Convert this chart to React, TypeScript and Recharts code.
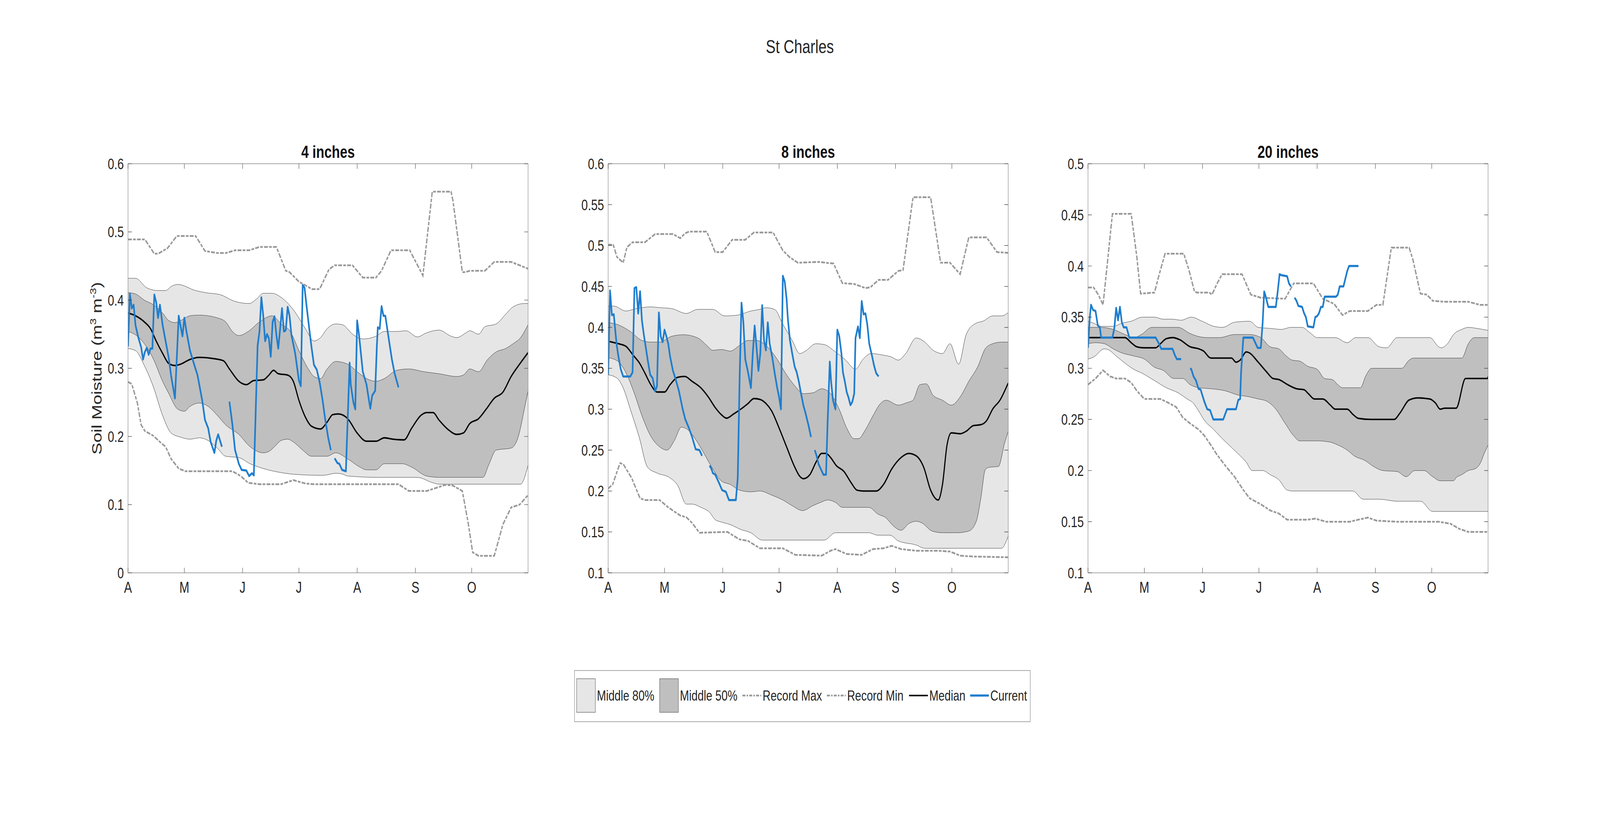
import React from 'react';
import { ComposedChart, Area, Line, XAxis, YAxis } from 'recharts';

type Pt = [number, number];

const FONT = '"Liberation Sans", Arial, Helvetica, sans-serif';
const TEXT = '#262626';
const BOX = '#878787';
const TICK = '#333333';
const LIGHT = '#e6e6e6';
const DARK = '#bfbfbf';
const EDGE = '#2b2b2b';
const RECORD = '#999999';
const BLUE = '#1f7dcd';
const RECORD_DASH = '13 4 9 4';

// figure size of the original; the whole figure is squeezed to the real viewport width
const FIG_W = 5375;
const FIG_H = 2096;

const PLOT_TOP = 419;
const PLOT_W = 1344;
const PLOT_H = 1047;
const PAD_L = 200;
const PAD_T = 100;
const PAD_R = 60;
const PAD_B = 120;
const TICK_LEN = 13;

// days since Apr 1 (Apr 1 .. Oct 31)
const DAY_END = 213;
const monthTicks = [0, 30, 61, 91, 122, 153, 183];
const monthLabels = ['A', 'M', 'J', 'J', 'A', 'S', 'O'];

const ticks4 = [0, 0.1, 0.2, 0.3, 0.4, 0.5, 0.6];
const ticks8 = [0.1, 0.15, 0.2, 0.25, 0.3, 0.35, 0.4, 0.45, 0.5, 0.55, 0.6];
const ticks20 = [0.1, 0.15, 0.2, 0.25, 0.3, 0.35, 0.4, 0.45, 0.5];

// ---- 4 inches ----
const max4: Pt[] = [[0,0.489],[9,0.489],[14,0.468],[16,0.468],[21,0.476],[26,0.494],[36,0.494],[41,0.472],[47.5,0.469],[52,0.469],[57,0.473],[64.5,0.473],[70,0.478],[79,0.478],[84,0.443],[86,0.441],[91,0.427],[98,0.416],[102,0.416],[107,0.445],[110,0.451],[119.5,0.451],[125,0.433],[132,0.433],[135,0.443],[140,0.473],[150,0.473],[157,0.436],[162,0.559],[172,0.559],[173,0.546],[178,0.441],[179.5,0.441],[182,0.443],[190,0.443],[195,0.456],[204,0.456],[213,0.446]];
const min4: Pt[] = [[0,0.280],[2,0.277],[5,0.249],[7,0.217],[9,0.208],[13.5,0.201],[17,0.192],[20,0.185],[23,0.167],[27,0.153],[30.5,0.149],[55.6,0.149],[60,0.142],[64,0.132],[70,0.130],[81.5,0.130],[88,0.136],[94.5,0.131],[99,0.130],[144,0.130],[149.5,0.120],[159,0.120],[169,0.129],[173,0.128],[178,0.120],[181,0.075],[183.5,0.030],[186.6,0.025],[195,0.025],[199.6,0.071],[204,0.096],[208.5,0.100],[213,0.114]];
const p90_4: Pt[] = [[0,0.432],[4,0.432],[10,0.418],[16,0.414],[20,0.414],[23,0.420],[26.5,0.423],[36,0.414],[41,0.411],[49,0.408],[57,0.398],[64.5,0.395],[68.6,0.402],[72,0.410],[76.7,0.410],[81.5,0.404],[88,0.386],[94.5,0.358],[99,0.340],[102.5,0.345],[106,0.358],[110.6,0.365],[114,0.364],[120,0.349],[125,0.343],[132,0.347],[136.5,0.354],[143,0.354],[148,0.355],[154,0.346],[159,0.352],[165.6,0.356],[172,0.347],[175,0.345],[180,0.352],[182,0.355],[186.6,0.350],[190,0.361],[196,0.365],[201,0.379],[205,0.390],[211,0.395],[213,0.395]];
const p75_4: Pt[] = [[0,0.411],[4,0.409],[8.7,0.400],[13.6,0.393],[18.4,0.381],[21.7,0.370],[25,0.367],[28,0.370],[33,0.377],[38,0.378],[47.5,0.374],[52,0.368],[55.6,0.354],[59,0.348],[64,0.354],[70,0.368],[76.7,0.377],[81.5,0.365],[86.4,0.354],[91,0.326],[96,0.299],[99,0.288],[102.5,0.285],[106,0.299],[110.6,0.310],[117,0.306],[122,0.295],[127,0.285],[132,0.281],[136.5,0.285],[143,0.297],[149.5,0.299],[157.5,0.295],[165.6,0.292],[175,0.288],[178.5,0.290],[182,0.299],[186.6,0.295],[191.5,0.313],[196,0.324],[201,0.329],[205,0.336],[209,0.345],[213,0.364]];
const p25_4: Pt[] = [[0,0.354],[4,0.349],[8.7,0.336],[13.6,0.313],[18.4,0.281],[21.7,0.263],[26.5,0.240],[30,0.237],[33,0.244],[38,0.249],[42.7,0.244],[47.5,0.231],[52,0.217],[59,0.203],[65,0.185],[72,0.176],[75,0.178],[78,0.185],[81.5,0.194],[85,0.196],[88,0.192],[93,0.180],[97.7,0.171],[106,0.171],[110.6,0.176],[117,0.167],[123.5,0.155],[127,0.151],[132,0.151],[136.5,0.160],[146,0.160],[151,0.155],[159,0.142],[165.6,0.140],[189,0.140],[192,0.158],[196,0.180],[204,0.183],[207.7,0.199],[211,0.240],[213,0.267]];
const p10_4: Pt[] = [[0,0.329],[4,0.326],[8.7,0.304],[13.6,0.272],[18.4,0.231],[23,0.205],[28,0.199],[33,0.196],[38,0.198],[42.7,0.194],[47.5,0.183],[52,0.171],[59,0.169],[65,0.160],[72,0.153],[81.5,0.147],[91,0.144],[104,0.143],[110.6,0.146],[114,0.145],[117,0.142],[133,0.140],[154,0.140],[162.4,0.132],[165.6,0.130],[209,0.130],[213,0.158]];
const med4: Pt[] = [[0,0.381],[4,0.377],[8.7,0.368],[12,0.358],[15,0.340],[18.4,0.322],[21.7,0.307],[25,0.304],[28,0.306],[33,0.313],[38,0.316],[46,0.314],[50.8,0.311],[54,0.299],[59,0.281],[63,0.276],[67,0.282],[72,0.283],[75,0.290],[77.5,0.297],[80,0.292],[85,0.290],[88,0.281],[91,0.253],[94.5,0.228],[97.7,0.215],[102.5,0.211],[106,0.221],[109,0.232],[112,0.233],[117,0.226],[122,0.205],[127,0.193],[132,0.193],[136.5,0.198],[141,0.196],[147,0.195],[151,0.212],[156,0.231],[159,0.235],[162.4,0.235],[165.6,0.224],[170.5,0.210],[175,0.203],[178.5,0.205],[182,0.219],[186.6,0.226],[190.7,0.240],[195,0.256],[199.6,0.265],[204,0.288],[209,0.308],[213,0.323]];
const cur4a: Pt[] = [[0,0.332],[1,0.409],[2,0.388],[3,0.393],[4,0.363],[5.5,0.345],[7,0.331],[8,0.313],[9,0.324],[10,0.330],[11,0.320],[12,0.329],[13,0.329],[14,0.408],[15,0.397],[16,0.374],[17,0.393],[18.4,0.364],[20,0.340],[21.7,0.315],[23,0.288],[25,0.256],[27,0.377],[29,0.347],[30,0.374],[31,0.356],[33,0.326],[35.4,0.304],[37,0.290],[39.5,0.253],[41,0.224],[42.7,0.212],[44,0.192],[46,0.176],[47,0.194],[48,0.203],[50,0.185]];
const cur4b: Pt[] = [[54,0.251],[55.6,0.217],[57,0.180],[59,0.160],[60.5,0.151],[63,0.150],[64.5,0.142],[66,0.146],[67,0.143],[69,0.333],[70,0.354],[71,0.404],[72,0.377],[73,0.340],[74,0.350],[75,0.344],[76,0.317],[77,0.368],[78,0.376],[79,0.349],[80,0.329],[81,0.358],[82,0.388],[83,0.354],[84,0.356],[85,0.390],[86,0.377],[87,0.349],[89,0.322],[91,0.282],[92,0.274],[93,0.422],[94,0.418],[95,0.393],[96.5,0.358],[97.7,0.331],[99,0.305],[100.5,0.298],[102,0.280],[103.5,0.255],[105,0.225],[106.6,0.198],[108,0.180]];
const cur4c: Pt[] = [[110,0.168],[111.5,0.161],[112.5,0.160],[114,0.151],[116,0.149],[118,0.308],[118.6,0.276],[120,0.250],[121,0.240],[122,0.370],[123,0.349],[124,0.322],[125,0.295],[127,0.276],[128,0.258],[129,0.241],[130,0.260],[131.6,0.267],[132.5,0.333],[133,0.360],[134,0.358],[135,0.391],[136,0.377],[137,0.377],[139,0.340],[140.5,0.313],[142,0.292],[144,0.272]];

// ---- 8 inches ----
const max8: Pt[] = [[0,0.501],[2.7,0.501],[4.7,0.486],[8,0.479],[10,0.498],[13,0.504],[19.6,0.504],[25,0.514],[34.5,0.514],[38.4,0.509],[41,0.515],[43,0.517],[52.5,0.517],[57,0.492],[61,0.492],[66,0.507],[73,0.507],[77.6,0.516],[87.8,0.516],[93,0.494],[96.5,0.486],[101,0.479],[112,0.480],[120,0.478],[124.7,0.454],[131,0.453],[137,0.448],[139.6,0.449],[144,0.458],[149,0.458],[154.5,0.469],[157,0.470],[162.3,0.559],[171.7,0.559],[177,0.479],[182,0.479],[187.4,0.465],[192,0.510],[201.5,0.510],[207,0.492],[213,0.491]];
const min8: Pt[] = [[0,0.203],[2.4,0.208],[6.3,0.234],[8,0.233],[12.5,0.216],[17,0.191],[19.6,0.189],[27.4,0.189],[32,0.180],[38.4,0.170],[41.6,0.168],[44.7,0.161],[48.6,0.149],[63.5,0.150],[69.8,0.141],[74.5,0.139],[80.8,0.130],[93,0.130],[99.6,0.122],[113.7,0.121],[118.4,0.127],[121,0.129],[127,0.123],[135,0.122],[141,0.129],[146.6,0.130],[151,0.133],[156,0.129],[164,0.127],[176,0.127],[182,0.126],[187.4,0.121],[193.7,0.120],[213,0.119]];
const p90_8: Pt[] = [[0,0.426],[3,0.426],[9.4,0.420],[15,0.423],[22.7,0.425],[28,0.424],[33.7,0.423],[41.6,0.417],[47.8,0.422],[55.7,0.422],[62,0.414],[69,0.415],[76,0.420],[80.8,0.422],[84,0.424],[88.6,0.422],[93,0.404],[98,0.384],[102,0.368],[105,0.371],[110.6,0.380],[115,0.379],[121,0.370],[126,0.361],[131.7,0.349],[135.7,0.361],[140,0.368],[146.6,0.366],[150.6,0.364],[154.5,0.360],[158.4,0.368],[164,0.387],[168.6,0.382],[173,0.372],[178,0.368],[182,0.380],[186.6,0.355],[190.6,0.391],[195,0.404],[200,0.408],[204.7,0.414],[209.4,0.414],[213,0.418]];
const p75_8: Pt[] = [[0,0.406],[5.5,0.403],[11.8,0.395],[18,0.384],[22.7,0.382],[27.4,0.382],[33.7,0.389],[40,0.391],[47.8,0.387],[52.5,0.378],[55.7,0.372],[60.4,0.373],[65,0.371],[70,0.378],[74.5,0.384],[79,0.384],[84,0.378],[90,0.361],[95,0.342],[99.6,0.328],[104,0.319],[109,0.320],[113.7,0.325],[118.4,0.319],[123,0.300],[127,0.277],[131,0.264],[133.3,0.264],[137,0.275],[141,0.292],[145,0.307],[148,0.311],[154.5,0.305],[159,0.308],[162.3,0.311],[166,0.330],[169.4,0.331],[173,0.317],[178,0.311],[182.7,0.305],[187.4,0.315],[192,0.334],[197,0.353],[200.8,0.374],[204.7,0.380],[209.4,0.382],[213,0.382]];
const p25_8: Pt[] = [[0,0.363],[5.5,0.358],[10,0.342],[14,0.319],[18,0.292],[22.7,0.267],[27.4,0.254],[31.4,0.250],[35.3,0.262],[39,0.278],[42.3,0.275],[46.3,0.264],[51,0.246],[55.7,0.227],[60.4,0.212],[65,0.208],[70,0.201],[76,0.199],[80.8,0.200],[87,0.195],[93,0.189],[98,0.182],[103.5,0.176],[109,0.182],[113,0.186],[117,0.189],[121,0.186],[124.7,0.180],[138.8,0.180],[143.5,0.172],[148,0.167],[152,0.157],[156,0.152],[160,0.160],[164,0.163],[167,0.161],[172.5,0.151],[178,0.149],[186,0.149],[192,0.151],[196,0.163],[198.4,0.191],[200.8,0.226],[203,0.229],[207.8,0.230],[211,0.258],[213,0.273]];
const p10_8: Pt[] = [[0,0.342],[4.7,0.338],[8,0.326],[11.8,0.300],[16.5,0.266],[21,0.229],[26,0.222],[33,0.216],[37,0.207],[41.6,0.184],[44.7,0.184],[49.4,0.180],[54,0.174],[57,0.165],[60.4,0.162],[65,0.159],[70.6,0.153],[76,0.149],[82,0.140],[115,0.140],[121,0.149],[138.8,0.149],[143.5,0.146],[150,0.146],[154.5,0.139],[164,0.134],[168.6,0.130],[209.4,0.130],[213,0.145]];
const med8: Pt[] = [[0,0.383],[5.5,0.380],[9.4,0.377],[13.3,0.366],[16.5,0.357],[19.6,0.344],[22.7,0.330],[26,0.321],[30,0.321],[33,0.330],[37,0.339],[40.8,0.340],[44.7,0.334],[49.4,0.326],[53.3,0.315],[57,0.302],[60.4,0.293],[63,0.289],[66.7,0.294],[70.6,0.300],[74.5,0.307],[77.6,0.313],[80.8,0.312],[84,0.307],[87,0.298],[91,0.277],[95,0.254],[99,0.231],[102,0.218],[104,0.215],[107.4,0.220],[110.6,0.235],[113.7,0.246],[116,0.246],[118.4,0.241],[121.5,0.231],[125.5,0.224],[129.4,0.210],[132.5,0.201],[135.7,0.200],[142.7,0.200],[146.6,0.208],[151,0.227],[156,0.241],[160,0.246],[164,0.243],[168,0.229],[171.7,0.201],[175.7,0.189],[178,0.208],[180.4,0.256],[182.7,0.271],[187.4,0.270],[190.6,0.273],[194.5,0.280],[198.4,0.281],[201.5,0.286],[204.7,0.300],[208.6,0.311],[213,0.332]];
const cur8a: Pt[] = [[0,0.342],[1,0.445],[2,0.415],[3,0.416],[4,0.391],[4.7,0.376],[5.5,0.364],[6.7,0.349],[8,0.340],[11.8,0.340],[13,0.345],[14,0.448],[15,0.449],[16,0.417],[17,0.444],[18,0.408],[19,0.391],[20,0.376],[21,0.361],[22.4,0.342],[23.7,0.338],[25,0.322],[26,0.328],[27,0.418],[28,0.389],[29,0.382],[30,0.397],[31,0.389],[32,0.380],[33,0.364],[34.5,0.347],[36,0.336],[37.6,0.323],[39.7,0.300],[41,0.288],[43,0.277],[44.7,0.266],[46.6,0.251],[48.6,0.250],[50,0.243]];
const cur8b: Pt[] = [[54,0.231],[55,0.227],[55.7,0.222],[57,0.220],[59,0.210],[60.7,0.201],[62.7,0.199],[64.3,0.189],[68,0.189],[69,0.216],[70,0.338],[71,0.430],[72,0.406],[73,0.361],[74.5,0.345],[76,0.326],[77,0.368],[78,0.402],[79,0.376],[80,0.347],[81,0.368],[82,0.427],[83,0.384],[84,0.372],[85,0.406],[86,0.380],[87.4,0.363],[88.6,0.345],[90,0.326],[91,0.315],[92,0.300],[93,0.463],[94,0.456],[95,0.435],[95.7,0.410],[96.8,0.384],[98,0.368],[99.3,0.352],[100.4,0.345],[101.5,0.334],[102.7,0.319],[104,0.304],[105,0.296],[106.6,0.281],[108,0.266]];
const cur8c: Pt[] = [[110,0.250],[111,0.243],[112,0.233],[113.4,0.226],[114.6,0.220],[116,0.220],[116.8,0.281],[118,0.358],[118.7,0.334],[119.7,0.311],[121,0.300],[122,0.397],[123,0.390],[124.2,0.368],[125,0.345],[126,0.334],[127,0.321],[128,0.314],[129,0.305],[130,0.309],[131,0.319],[131.7,0.387],[133,0.401],[134,0.387],[135,0.432],[136,0.416],[137,0.417],[138,0.403],[139,0.380],[140.4,0.366],[141.6,0.353],[142.7,0.344],[144,0.340]];

// ---- 20 inches ----
const max20: Pt[] = [[0,0.379],[3,0.379],[5.5,0.372],[8,0.362],[10.5,0.406],[13,0.451],[23,0.451],[26,0.409],[28,0.373],[35.4,0.374],[37.8,0.391],[41,0.412],[51,0.412],[53.6,0.397],[56.7,0.375],[58,0.374],[64.6,0.374],[66,0.372],[68.5,0.382],[71.4,0.392],[82,0.392],[86.7,0.372],[92,0.369],[105,0.368],[109.5,0.383],[120,0.383],[125,0.368],[131,0.363],[135.5,0.352],[139.4,0.356],[149,0.356],[153.6,0.362],[157,0.362],[161.5,0.418],[171,0.418],[173,0.406],[177,0.373],[180.4,0.372],[183.5,0.366],[190,0.365],[202.5,0.365],[208.8,0.362],[213,0.362]];
const min20: Pt[] = [[0,0.284],[4,0.290],[8,0.298],[11.8,0.292],[15,0.290],[19.7,0.290],[23,0.286],[26,0.278],[30,0.270],[38.6,0.270],[43,0.266],[47,0.262],[50.4,0.252],[54.4,0.246],[59,0.240],[62,0.234],[65.4,0.225],[68.5,0.216],[73,0.205],[78,0.194],[82.7,0.181],[86,0.173],[92,0.167],[97,0.161],[101.6,0.158],[106,0.152],[117,0.152],[121,0.153],[126.8,0.150],[139.4,0.150],[144,0.152],[149,0.154],[153.6,0.151],[164.6,0.150],[186.7,0.150],[193,0.148],[197.7,0.143],[202.5,0.140],[213,0.140]];
const p90_20: Pt[] = [[0,0.346],[3,0.344],[7,0.341],[13.4,0.341],[18,0.344],[23,0.346],[29,0.350],[35.4,0.350],[40,0.348],[45,0.348],[49.6,0.347],[55,0.350],[60.7,0.346],[67,0.341],[71.7,0.340],[78,0.345],[86,0.346],[90.6,0.340],[97,0.339],[103,0.338],[108,0.340],[114,0.340],[118,0.335],[122,0.330],[131.6,0.330],[138,0.325],[142.6,0.330],[149,0.330],[155,0.321],[159,0.320],[164.6,0.330],[182,0.330],[186.7,0.321],[188,0.320],[191.4,0.324],[194.6,0.333],[199,0.338],[202.5,0.340],[207,0.339],[213,0.337]];
const p75_20: Pt[] = [[0,0.340],[7,0.340],[13.4,0.338],[19.7,0.333],[24.4,0.330],[28.4,0.333],[34,0.340],[48,0.340],[54.4,0.334],[59,0.331],[63.8,0.330],[70,0.330],[78,0.333],[86,0.333],[92,0.330],[97,0.321],[101.6,0.319],[105,0.313],[108.7,0.308],[112.7,0.307],[117,0.302],[122,0.299],[126,0.290],[130,0.289],[133,0.284],[135.5,0.281],[145,0.281],[148,0.293],[151,0.300],[167,0.300],[171,0.308],[173.3,0.310],[199,0.310],[202.5,0.324],[205.6,0.330],[213,0.330]];
const p25_20: Pt[] = [[0,0.324],[4,0.325],[8.7,0.324],[13.4,0.319],[18,0.315],[24.4,0.312],[30,0.309],[35.4,0.301],[40,0.298],[45.7,0.290],[50.4,0.290],[54.4,0.284],[59,0.281],[65.4,0.280],[73,0.278],[79.6,0.274],[86,0.272],[90.6,0.270],[95,0.268],[100,0.260],[105,0.246],[109.5,0.234],[112.7,0.229],[122,0.229],[128.4,0.228],[133,0.225],[138,0.220],[142,0.214],[147.3,0.210],[152,0.204],[157,0.200],[164.6,0.199],[169.4,0.194],[174,0.200],[178.8,0.200],[183.5,0.194],[187.5,0.190],[194.6,0.190],[196,0.193],[199,0.196],[202.5,0.200],[206.4,0.202],[208.8,0.207],[211,0.217],[213,0.225]];
const p10_20: Pt[] = [[0,0.309],[3,0.311],[8.7,0.319],[11,0.318],[15,0.312],[19.7,0.305],[24.4,0.299],[29,0.295],[35.4,0.288],[41.7,0.281],[48,0.276],[52.8,0.270],[56,0.266],[59,0.258],[62,0.249],[67,0.240],[70,0.234],[75,0.225],[79.6,0.217],[84.3,0.208],[87.4,0.200],[93,0.200],[97,0.196],[101.6,0.191],[106,0.181],[108.7,0.180],[141,0.180],[146.5,0.172],[155,0.172],[164.6,0.170],[177,0.170],[183.5,0.160],[213,0.160]];
const med20: Pt[] = [[0,0.330],[19.7,0.330],[23,0.325],[26,0.321],[30,0.320],[36,0.320],[38.6,0.324],[41.7,0.329],[45,0.330],[48.8,0.328],[54.4,0.321],[59,0.319],[61.4,0.317],[65.4,0.310],[76.4,0.310],[78.8,0.306],[81,0.308],[84.3,0.316],[86,0.315],[90.6,0.306],[95.3,0.296],[98.5,0.290],[101.6,0.289],[106.3,0.284],[111,0.280],[115,0.279],[117.4,0.275],[120.5,0.270],[125,0.270],[129,0.264],[131.6,0.260],[138,0.260],[141,0.255],[144,0.251],[150.5,0.250],[163,0.250],[166,0.256],[171,0.269],[175.7,0.271],[182,0.270],[185,0.266],[187.5,0.260],[190,0.261],[196,0.261],[201,0.290],[212.7,0.290],[213,0.292]];
const cur20a: Pt[] = [[0,0.320],[1,0.351],[1.6,0.362],[2.7,0.357],[4,0.356],[5.2,0.342],[6.3,0.340],[7,0.330],[13,0.330],[14,0.339],[15,0.359],[16,0.347],[17,0.360],[18,0.345],[19,0.340],[20.5,0.340],[22,0.330],[36,0.330],[37.8,0.324],[39,0.319],[45,0.319],[46.2,0.313],[47.3,0.309],[49.6,0.309]];
const cur20b: Pt[] = [[54.4,0.300],[55,0.299],[56.2,0.292],[57.5,0.288],[58.8,0.280],[60,0.279],[61,0.273],[62,0.267],[63.5,0.260],[65,0.259],[66.7,0.250],[72,0.250],[74,0.260],[78.8,0.260],[80,0.269],[81,0.270],[81.5,0.296],[82.7,0.330],[87.8,0.330],[90.3,0.320],[92,0.320],[93,0.345],[93.8,0.375],[94.5,0.371],[96,0.360],[100,0.360],[101,0.375],[102,0.392],[103,0.391],[106,0.390],[107,0.383],[108,0.380]];
const cur20c: Pt[] = [[110,0.369],[111,0.366],[112,0.361],[114,0.360],[115,0.354],[116,0.350],[117,0.341],[120,0.340],[121,0.350],[122,0.351],[123,0.354],[124,0.360],[125,0.360],[126,0.370],[132,0.370],[133,0.372],[134,0.380],[136,0.380],[138,0.395],[139,0.400],[144,0.400]];

const legendLabels = ['Middle 80%', 'Middle 50%', 'Record Max', 'Record Min', 'Median', 'Current'];

interface PanelSeries {
  max: Pt[]; min: Pt[]; p90: Pt[]; p75: Pt[]; p25: Pt[]; p10: Pt[]; med: Pt[];
  curA: Pt[]; curB: Pt[]; curC: Pt[];
}

interface PanelConfig {
  title: string;
  left: number;
  domain: [number, number];
  ticks: number[];
  series: PanelSeries;
}

const panels: PanelConfig[] = [
  { title: '4 inches', left: 430, domain: [0, 0.6], ticks: ticks4,
    series: { max: max4, min: min4, p90: p90_4, p75: p75_4, p25: p25_4, p10: p10_4, med: med4, curA: cur4a, curB: cur4b, curC: cur4c } },
  { title: '8 inches', left: 2043, domain: [0.1, 0.6], ticks: ticks8,
    series: { max: max8, min: min8, p90: p90_8, p75: p75_8, p25: p25_8, p10: p10_8, med: med8, curA: cur8a, curB: cur8b, curC: cur8c } },
  { title: '20 inches', left: 3655, domain: [0.1, 0.5], ticks: ticks20,
    series: { max: max20, min: min20, p90: p90_20, p75: p75_20, p25: p25_20, p10: p10_20, med: med20, curA: cur20a, curB: cur20b, curC: cur20c } },
];

// merge the per-series [day, value] lists into one table keyed by day
function buildRows(series: PanelSeries) {
  const rows = new Map<number, any>();
  Object.entries(series).forEach(([key, pts]) => {
    (pts as Pt[]).forEach(([d, v]) => {
      const row = rows.get(d) ?? { day: d };
      row[key] = v;
      rows.set(d, row);
    });
  });
  return Array.from(rows.values()).sort((a, b) => a.day - b.day);
}

const fmtValue = (v: number) => String(parseFloat(v.toFixed(2)));

// ticks point inward, MATLAB style
const MonthTick = (props: any) => {
  const { x, y, payload } = props;
  const label = monthLabels[monthTicks.indexOf(payload.value)];
  return (
    <g>
      <line x1={x} y1={y} x2={x} y2={y - TICK_LEN} stroke={TICK} strokeWidth={1.2} />
      <text x={x} y={y + 51} textAnchor="middle" fontSize={40} fontFamily={FONT} fill={TEXT}>{label}</text>
    </g>
  );
};

const TopTick = (props: any) => {
  const { x, y } = props;
  return <line x1={x} y1={y} x2={x} y2={y + TICK_LEN} stroke={TICK} strokeWidth={1.2} />;
};

const ValueTick = (props: any) => {
  const { x, y, payload } = props;
  return (
    <g>
      <line x1={x} y1={y} x2={x + TICK_LEN} y2={y} stroke={TICK} strokeWidth={1.2} />
      <text x={x - 14} y={y} dy="0.355em" textAnchor="end" fontSize={39} fontFamily={FONT} fill={TEXT}>
        {fmtValue(payload.value)}
      </text>
    </g>
  );
};

const RightTick = (props: any) => {
  const { x, y } = props;
  return <line x1={x} y1={y} x2={x - TICK_LEN} y2={y} stroke={TICK} strokeWidth={1.2} />;
};

// stacked from the top down: each layer is filled to the axis floor, so the
// later layers cut the bands out of the earlier ones
const bandLayers = [
  { key: 'p90', fill: LIGHT },
  { key: 'p75', fill: DARK },
  { key: 'p25', fill: LIGHT },
  { key: 'p10', fill: '#ffffff' },
];

const Panel: React.FC<{ cfg: PanelConfig }> = ({ cfg }) => {
  const rows = buildRows(cfg.series);
  const axisLine = { stroke: BOX, strokeWidth: 1.5 };
  // the frame axes get 1px of room (a zero-sized axis is not drawn at all)
  return (
    <div style={{ position: 'absolute', left: cfg.left - PAD_L, top: PLOT_TOP - PAD_T }}>
      <ComposedChart
        width={PAD_L + PLOT_W + PAD_R}
        height={PAD_T + PLOT_H + PAD_B}
        data={rows}
        margin={{ top: PAD_T - 1, right: PAD_R - 1, bottom: PAD_B - 1, left: 0 }}
      >
        {bandLayers.map((b) => (
          <Area
            key={b.key}
            dataKey={b.key}
            type="monotone"
            fill={b.fill}
            fillOpacity={1}
            stroke={EDGE}
            strokeWidth={1}
            baseValue="dataMin"
            connectNulls
            dot={false}
            activeDot={false}
            isAnimationActive={false}
          />
        ))}
        <Line dataKey="max" type="linear" stroke={RECORD} strokeWidth={4.5} strokeDasharray={RECORD_DASH}
          connectNulls dot={false} activeDot={false} isAnimationActive={false} />
        <Line dataKey="min" type="linear" stroke={RECORD} strokeWidth={4.5} strokeDasharray={RECORD_DASH}
          connectNulls dot={false} activeDot={false} isAnimationActive={false} />
        <Line dataKey="med" type="monotone" stroke="#000000" strokeWidth={3.8}
          connectNulls dot={false} activeDot={false} isAnimationActive={false} />
        {['curA', 'curB', 'curC'].map((k) => (
          <Line key={k} dataKey={k} type="linear" stroke={BLUE} strokeWidth={5.5} strokeLinejoin="round"
            connectNulls dot={false} activeDot={false} isAnimationActive={false} />
        ))}
        <XAxis dataKey="day" type="number" domain={[0, DAY_END]} ticks={monthTicks} interval={0}
          height={1} tickSize={0} tickMargin={0} tickLine={false} axisLine={axisLine}
          tick={<MonthTick />} allowDataOverflow />
        <XAxis xAxisId="top" orientation="top" dataKey="day" type="number" domain={[0, DAY_END]}
          ticks={monthTicks} interval={0} height={1} tickSize={0} tickMargin={0} tickLine={false}
          axisLine={axisLine} tick={<TopTick />} allowDataOverflow />
        <YAxis type="number" domain={cfg.domain} ticks={cfg.ticks} interval={0} width={PAD_L}
          tickSize={0} tickMargin={0} tickLine={false} axisLine={axisLine} tick={<ValueTick />}
          allowDataOverflow />
        <YAxis yAxisId="right" orientation="right" type="number" domain={cfg.domain} ticks={cfg.ticks}
          interval={0} width={1} tickSize={0} tickMargin={0} tickLine={false} axisLine={axisLine}
          tick={<RightTick />} allowDataOverflow />
      </ComposedChart>
    </div>
  );
};

const Legend: React.FC = () => {
  const y = 1780;
  const itemX = [1937, 2216, 2494, 2778, 3054, 3259];
  const sampleW = 63;
  return (
    <g fontFamily={FONT} fontSize={37} fill={TEXT}>
      <rect x={1930} y={1716} width={1531} height={131} fill="#ffffff" stroke="#8c8c8c" strokeWidth={1.5} />
      {legendLabels.map((label, i) => {
        const x = itemX[i];
        let sample: React.ReactNode;
        if (i < 2) {
          sample = <rect x={x} y={y - 43} width={sampleW} height={86} fill={i === 0 ? LIGHT : DARK} stroke="#555" strokeWidth={1.2} />;
        } else if (i < 4) {
          sample = <line x1={x} y1={y} x2={x + sampleW} y2={y} stroke={RECORD} strokeWidth={4.5} strokeDasharray="10 4 5 4" />;
        } else {
          sample = <line x1={x} y1={y} x2={x + sampleW} y2={y} stroke={i === 4 ? '#000' : BLUE} strokeWidth={i === 4 ? 3.8 : 5.5} />;
        }
        return (
          <g key={label}>
            {sample}
            <text x={x + sampleW + 5} y={y + 13}>{label}</text>
          </g>
        );
      })}
    </g>
  );
};

export default function App() {
  // the browser may clamp the window below the figure width: squeeze horizontally to fit
  const viewW = typeof window !== 'undefined' && window.innerWidth > 0 ? window.innerWidth : FIG_W;
  const sx = Math.min(1, viewW / FIG_W);
  const midY = PLOT_TOP + PLOT_H / 2;
  return (
    <div style={{ position: 'fixed', left: 0, top: 0, width: '100vw', height: '100vh', overflow: 'hidden', background: '#ffffff' }}>
      <div
        style={{
          position: 'absolute', left: 0, top: 0, width: FIG_W, height: FIG_H,
          background: '#ffffff', fontFamily: FONT,
          transform: `scale(${sx}, 1)`, transformOrigin: '0 0',
        }}
      >
        {panels.map((p) => <Panel key={p.title} cfg={p} />)}
        <svg width={FIG_W} height={FIG_H} style={{ position: 'absolute', left: 0, top: 0, pointerEvents: 'none' }}>
          <text x={2687} y={136} textAnchor="middle" fontSize={49} fontFamily={FONT} fill={TEXT}>St Charles</text>
          {panels.map((p) => (
            <text key={p.title} x={p.left + PLOT_W / 2} y={404} textAnchor="middle" fontSize={45}
              fontWeight="bold" fontFamily={FONT} fill="#111">{p.title}</text>
          ))}
          <text x={341} y={midY} transform={`rotate(-90 341 ${midY})`}
            textAnchor="middle" fontSize={46} fontFamily={FONT} fill={TEXT}>
            Soil Moisture (m<tspan dy={-18} fontSize={30}>3</tspan><tspan dy={18}> m</tspan>
            <tspan dy={-18} fontSize={30}>-3</tspan><tspan dy={18}>)</tspan>
          </text>
          <Legend />
        </svg>
      </div>
    </div>
  );
}
